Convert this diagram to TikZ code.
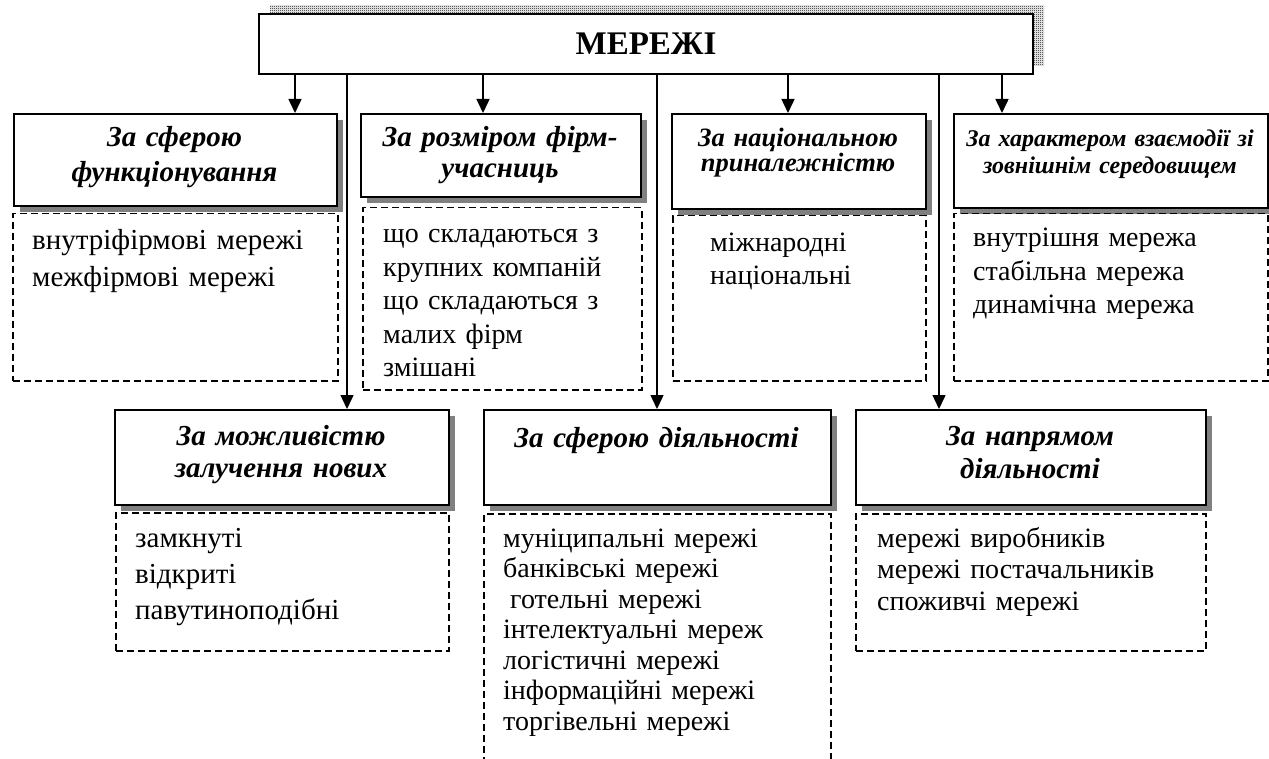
\documentclass[tikz,border=0pt]{standalone}
\usepackage{fontspec}
\setmainfont{Liberation Serif}
\usetikzlibrary{arrows.meta,patterns,shadows}
\pgfdeclarepatternformonly{finecheck}{\pgfpointorigin}{\pgfqpoint{2pt}{2pt}}{\pgfqpoint{2pt}{2pt}}{%
  \pgfpathrectangle{\pgfpointorigin}{\pgfqpoint{1pt}{1pt}}%
  \pgfpathrectangle{\pgfqpoint{1pt}{1pt}}{\pgfqpoint{1pt}{1pt}}%
  \pgfusepath{fill}}
\tikzset{
  box/.style={draw=black, line width=2pt, fill=white, inner sep=0pt, anchor=north west,
    general shadow={fill=black!50, shadow xshift=6pt, shadow yshift=-6pt}},
  topbox/.style={draw=black, line width=2pt, fill=white, inner sep=0pt, anchor=north west,
    general shadow={pattern=finecheck, pattern color=black, shadow xshift=11pt, shadow yshift=8pt}},
  dbox/.style={draw=black, line width=1.5pt, dash pattern=on 7pt off 4pt, inner sep=0pt, anchor=north west},
  head/.style={inner sep=0pt, anchor=base, align=center},
  body/.style={inner sep=0pt, anchor=base west, align=left, text width=330pt},
  arr/.style={draw=black, line width=1.5pt, -{Triangle[width=13pt,length=14pt]}},
}
\newcommand{\myhf}[2]{\fontsize{#1}{#2}\selectfont\bfseries\itshape}
\newcommand{\mybf}[2]{\fontsize{#1}{#2}\selectfont}
\begin{document}
\begin{tikzpicture}[x=1pt,y=-1pt]
\useasboundingbox (0,0) rectangle (1269,759);
\clip (0,0) rectangle (1269,759);

% top box
\node[topbox, minimum width=774pt, minimum height=60pt, font=\fontsize{33}{38}\selectfont\bfseries] (top) at (258,13) {МЕРЕЖІ};

% level 1 boxes
\node[box, minimum width=323pt, minimum height=92pt] (A) at (13,113) {};
\node[box, minimum width=280pt, minimum height=83pt] (B) at (360,113) {};
\node[box, minimum width=254pt, minimum height=95pt] (C) at (671,113) {};
\node[box, minimum width=314pt, minimum height=94pt] (D) at (953,113) {};

\node[head, text width=320pt, font=\myhf{29}{35}] (At) at (174.5,147) {За сферою\\функціонування};
\node[head, text width=278pt, font=\myhf{29}{31}] (Bt) at (500,147) {За розміром фірм-\\учасниць};
\node[head, text width=252pt, font=\myhf{26.5}{25}] (Ct) at (798,147) {За національною\\приналежністю};
\node[head, text width=312pt, font=\myhf{24}{27}] (Dt) at (1110,147) {За характером взаємодії зі\\зовнішнім середовищем};

% level 1 dashed boxes
\node[dbox, minimum width=325pt, minimum height=167pt] (DA) at (12,213) {};
\node[dbox, minimum width=279pt, minimum height=182pt] (DB) at (362,207) {};
\node[dbox, minimum width=253pt, minimum height=165pt] (DC) at (672,215) {};
\node[dbox, minimum width=314pt, minimum height=167pt] (DD) at (953,213) {};

\node[body, font=\mybf{29}{37}] (DAt) at (32,250) {внутріфірмові мережі\\межфірмові мережі};
\node[body, font=\mybf{28}{33.5}] (DBt) at (383,243) {що складаються з\\крупних компаній\\що складаються з\\малих фірм\\змішані};
\node[body, font=\mybf{28}{33}] (DCt) at (710,252) {міжнародні\\національні};
\node[body, font=\mybf{28}{33.5}] (DDt) at (973,247) {внутрішня мережа\\стабільна мережа\\динамічна мережа};

% level 2 boxes
\node[box, minimum width=334pt, minimum height=95pt] (E) at (114,409) {};
\node[box, minimum width=347pt, minimum height=95pt] (F) at (483,409) {};
\node[box, minimum width=350pt, minimum height=95pt] (G) at (855,409) {};

\node[head, text width=330pt, font=\myhf{29}{32}] (Et) at (281,445) {За можливістю\\залучення нових};
\node[head, text width=340pt, font=\myhf{29}{32}] (Ft) at (656.5,447) {За сферою діяльності};
\node[head, text width=345pt, font=\myhf{29}{33}] (Gt) at (1030,445) {За напрямом\\діяльності};

% level 2 dashed boxes
\node[dbox, minimum width=333pt, minimum height=138pt] (DE) at (115,512) {};
\node[dbox, minimum width=347pt, minimum height=262pt] (DF) at (483,513) {};
\node[dbox, minimum width=350pt, minimum height=137pt] (DG) at (855,513) {};

\node[body, font=\mybf{29}{36}] (DEt) at (135,547) {замкнуті\\відкриті\\павутиноподібні};
\node[body, font=\mybf{28}{30.5}] (DFt) at (503,547) {муніципальні мережі\\банківські мережі\\\hspace*{7pt}готельні мережі\\інтелектуальні мереж\\логістичні мережі\\інформаційні мережі\\торгівельні мережі};
\node[body, font=\mybf{28}{31.5}] (DGt) at (877,547) {мережі виробників\\мережі постачальників\\споживчі мережі};

% connectors
\coordinate (xa) at (295,0);
\coordinate (xe) at (347,0);
\coordinate (xb) at (483,0);
\coordinate (xf) at (657,0);
\coordinate (xc) at (788,0);
\coordinate (xg) at (939,0);
\coordinate (xd) at (1002,0);
\draw[arr] (top.south -| xa) -- (A.north -| xa);
\draw[arr] (top.south -| xb) -- (B.north -| xb);
\draw[arr] (top.south -| xc) -- (C.north -| xc);
\draw[arr] (top.south -| xd) -- (D.north -| xd);
\draw[arr] (top.south -| xe) -- (E.north -| xe);
\draw[arr] (top.south -| xf) -- (F.north -| xf);
\draw[arr] (top.south -| xg) -- (G.north -| xg);
\end{tikzpicture}
\end{document}
